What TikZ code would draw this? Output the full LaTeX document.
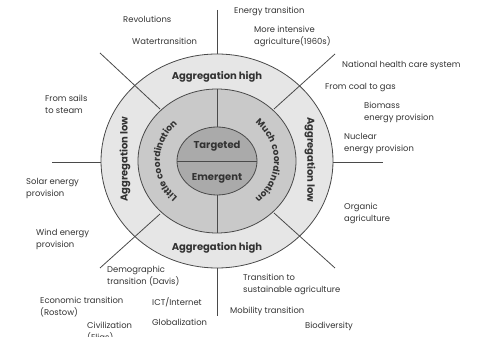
\documentclass[tikz,border=0pt]{standalone}
\usepackage{fontspec}
\setmainfont{Poppins}
\usetikzlibrary{calc,decorations.text}
\definecolor{ringA}{HTML}{E6E6E6}
\definecolor{ringB}{HTML}{C9C9C9}
\definecolor{ringC}{HTML}{AAAAAA}
\definecolor{edge}{HTML}{4A4A4A}
\definecolor{txt}{HTML}{333333}
\tikzset{
  lab/.style={anchor=west,align=left,text=txt,font=\fontsize{8.4}{12}\selectfont,inner sep=0pt},
  ringlab/.style={text=txt,font=\bfseries\fontsize{10}{12}\selectfont,inner sep=0pt},
  ln/.style={draw=edge,line width=0.8pt},
}
\begin{document}
\begin{tikzpicture}[x=1pt,y=1pt]
\useasboundingbox (0,0) rectangle (480,337);
\coordinate (C) at (217,176);
% rings
\filldraw[fill=ringA,draw=edge,line width=0.8pt] (C) ellipse [x radius=116,y radius=107];
\filldraw[fill=ringB,draw=edge,line width=0.8pt] (C) ellipse [x radius=79,y radius=72];
\filldraw[fill=ringC,draw=edge,line width=0.8pt] (C) ellipse [x radius=40,y radius=34];
% coordinates
\coordinate (oT) at (217,283);
\coordinate (eT) at (217,327);
\coordinate (oB) at (217,69);
\coordinate (eB) at (217,21);
\coordinate (mT) at (217,248);
\coordinate (iT) at (217,210);
\coordinate (mB) at (217,104);
\coordinate (iB) at (217,142);
\coordinate (iL) at (177,176);
\coordinate (iR) at (257,176);
\coordinate (oL) at (101,175);
\coordinate (eL) at (52,175);
\coordinate (oR) at (333,175);
\coordinate (eR) at (383,175);
\coordinate (mUL) at ($(C)+(-57,52)$);
\coordinate (eUL) at ($(C)+(-117,108)$);
\coordinate (mUR) at ($(C)+(57,52)$);
\coordinate (eUR) at ($(C)+(118,107)$);
\coordinate (mLL) at ($(C)+(-57,-53)$);
\coordinate (eLL) at ($(C)+(-117,-107)$);
\coordinate (mLR) at ($(C)+(57,-52)$);
\coordinate (eLR) at ($(C)+(118,-107)$);
% connectors
\draw[ln] (eT) -- (oT);
\draw[ln] (mT) -- (iT);
\draw[ln] (iB) -- (mB);
\draw[ln] (oB) -- (eB);
\draw[ln] (iL) -- (iR);
\draw[ln] (eL) -- (oL);
\draw[ln] (oR) -- (eR);
\draw[ln] (eUL) -- (mUL);
\draw[ln] (eUR) -- (mUR);
\draw[ln] (eLL) -- (mLL);
\draw[ln] (eLR) -- (mLR);
% ring labels
\node[ringlab] (aht) at (217,260) {Aggregation high};
\node[ringlab] (ahb) at (217,89) {Aggregation high};
\node[ringlab,rotate=90] (all) at (125,178) {Aggregation low};
\node[ringlab,rotate=-90] (alr) at (310,177) {Aggregation low};
\node[ringlab] (tg) at (217,191) {Targeted};
\node[ringlab] (em) at (217,159) {Emergent};
\path[decorate,decoration={text along path,text align=center,
  text={|\color{txt}\bfseries\fontsize{9}{11}\selectfont|Little coordination}}]
  ($(C)+(238:57 and 51)$) arc[start angle=238,end angle=122,x radius=57,y radius=51];
\path[decorate,decoration={text along path,text align=center,
  text={|\color{txt}\bfseries\fontsize{9}{11}\selectfont|Much coordination}}]
  ($(C)+(58:57 and 51)$) arc[start angle=58,end angle=-58,x radius=57,y radius=51];
% outer labels
\node[lab] (rev) at (123,318) {Revolutions};
\node[lab] (wat) at (132,296) {Watertransition};
\node[lab] (ene) at (234,326) {Energy transition};
\node[lab] (mor) at (254,300.5) {More intensive\\agriculture(1960s)};
\node[lab] (nat) at (342,272) {National health care system};
\node[lab] (coa) at (325,249) {From coal to gas};
\node[lab] (bio) at (364,224.5) {Biomass\\energy provision};
\node[lab] (nuc) at (344,193) {Nuclear\\energy provision};
\node[lab] (org) at (344,124) {Organic\\agriculture};
\node[lab] (sus) at (243,53) {Transition to\\sustainable agriculture};
\node[lab] (mob) at (230,26) {Mobility transition};
\node[lab] (bdv) at (305,11) {Biodiversity};
\node[lab] (sai) at (45,232.5) {From sails\\to steam};
\node[lab] (sol) at (26,148.5) {Solar energy\\provision};
\node[lab] (win) at (36,98) {Wind energy\\provision};
\node[lab] (dem) at (107,61) {Demographic\\transition (Davis)};
\node[lab] (eco) at (40,30) {Economic transition\\(Rostow)};
\node[lab] (ict) at (152,35) {ICT/Internet};
\node[lab] (glo) at (152,15) {Globalization};
\node[lab,anchor=north west] (civ) at (87,15) {Civilization\\(Elias)};
\end{tikzpicture}
\end{document}
